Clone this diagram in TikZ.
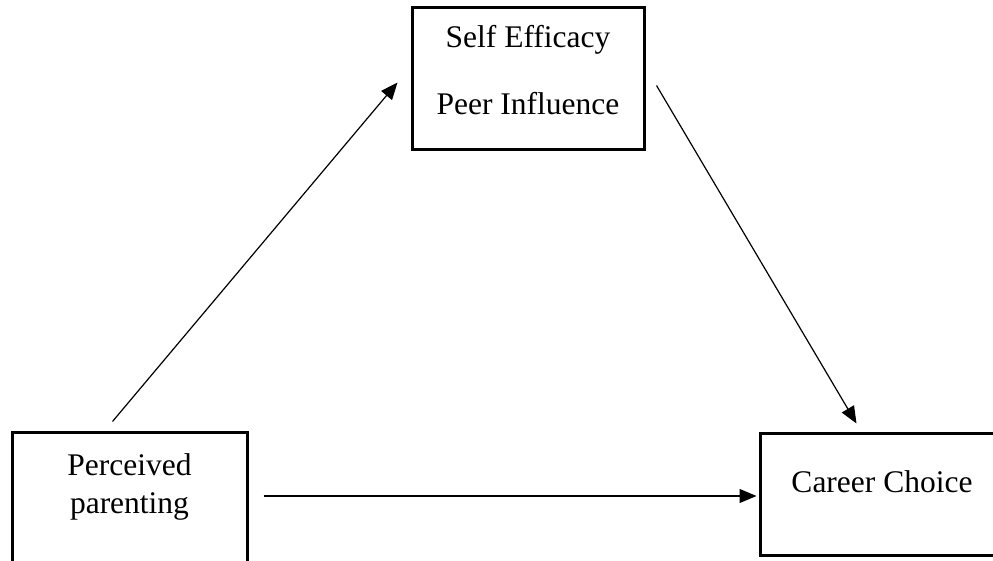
\documentclass[tikz,border=0pt]{standalone}
\usepackage{fontspec}
\setmainfont{Liberation Serif}
\usetikzlibrary{arrows.meta}
\begin{document}
\begin{tikzpicture}[x=1pt,y=1pt,
  boxnode/.style={draw=black,line width=3pt,rectangle,inner sep=0pt},
  lbl/.style={anchor=base,inner sep=0pt,font=\fontsize{31.5}{38}\selectfont},
  arr/.style={line width=1.2pt,-{Triangle[length=17pt,width=14pt]}}]
\useasboundingbox (0,0) rectangle (993,560);
\clip (0,0) rectangle (993,560);
% boxes
\node[boxnode,minimum width=232pt,minimum height=142pt] (se) at (528,481) {};
\node[boxnode,minimum width=235pt,minimum height=143pt] (pp) at (129.5,56.5) {};
\node[boxnode,minimum width=244pt,minimum height=122pt] (cc) at (882,66) {};
% labels
\node[lbl] (se1) at (528,512) {Self Efficacy};
\node[lbl] (se2) at (528,445) {Peer Influence};
\node[lbl] (pp1) at (129.5,85) {Perceived};
\node[lbl] (pp2) at (129.5,47) {parenting};
\node[lbl] (cc1) at (882,68) {Career Choice};
% connector end points
\coordinate (a1s) at ([shift={(102pt,9pt)}]pp.north west);
\coordinate (a1e) at ([shift={(-13pt,-76pt)}]se.north west);
\coordinate (a2s) at ([shift={(11pt,-79pt)}]se.north east);
\coordinate (a2e) at ([shift={(98pt,8pt)}]cc.north west);
\coordinate (a3s) at ([shift={(15pt,7.5pt)}]pp.east);
\coordinate (a3e) at ([shift={(-2pt,-2pt)}]cc.west);
% connectors
\draw[arr] (a1s) -- (a1e);
\draw[arr] (a2s) -- (a2e);
\draw[arr] (a3s) -- (a3e);
\end{tikzpicture}
\end{document}
